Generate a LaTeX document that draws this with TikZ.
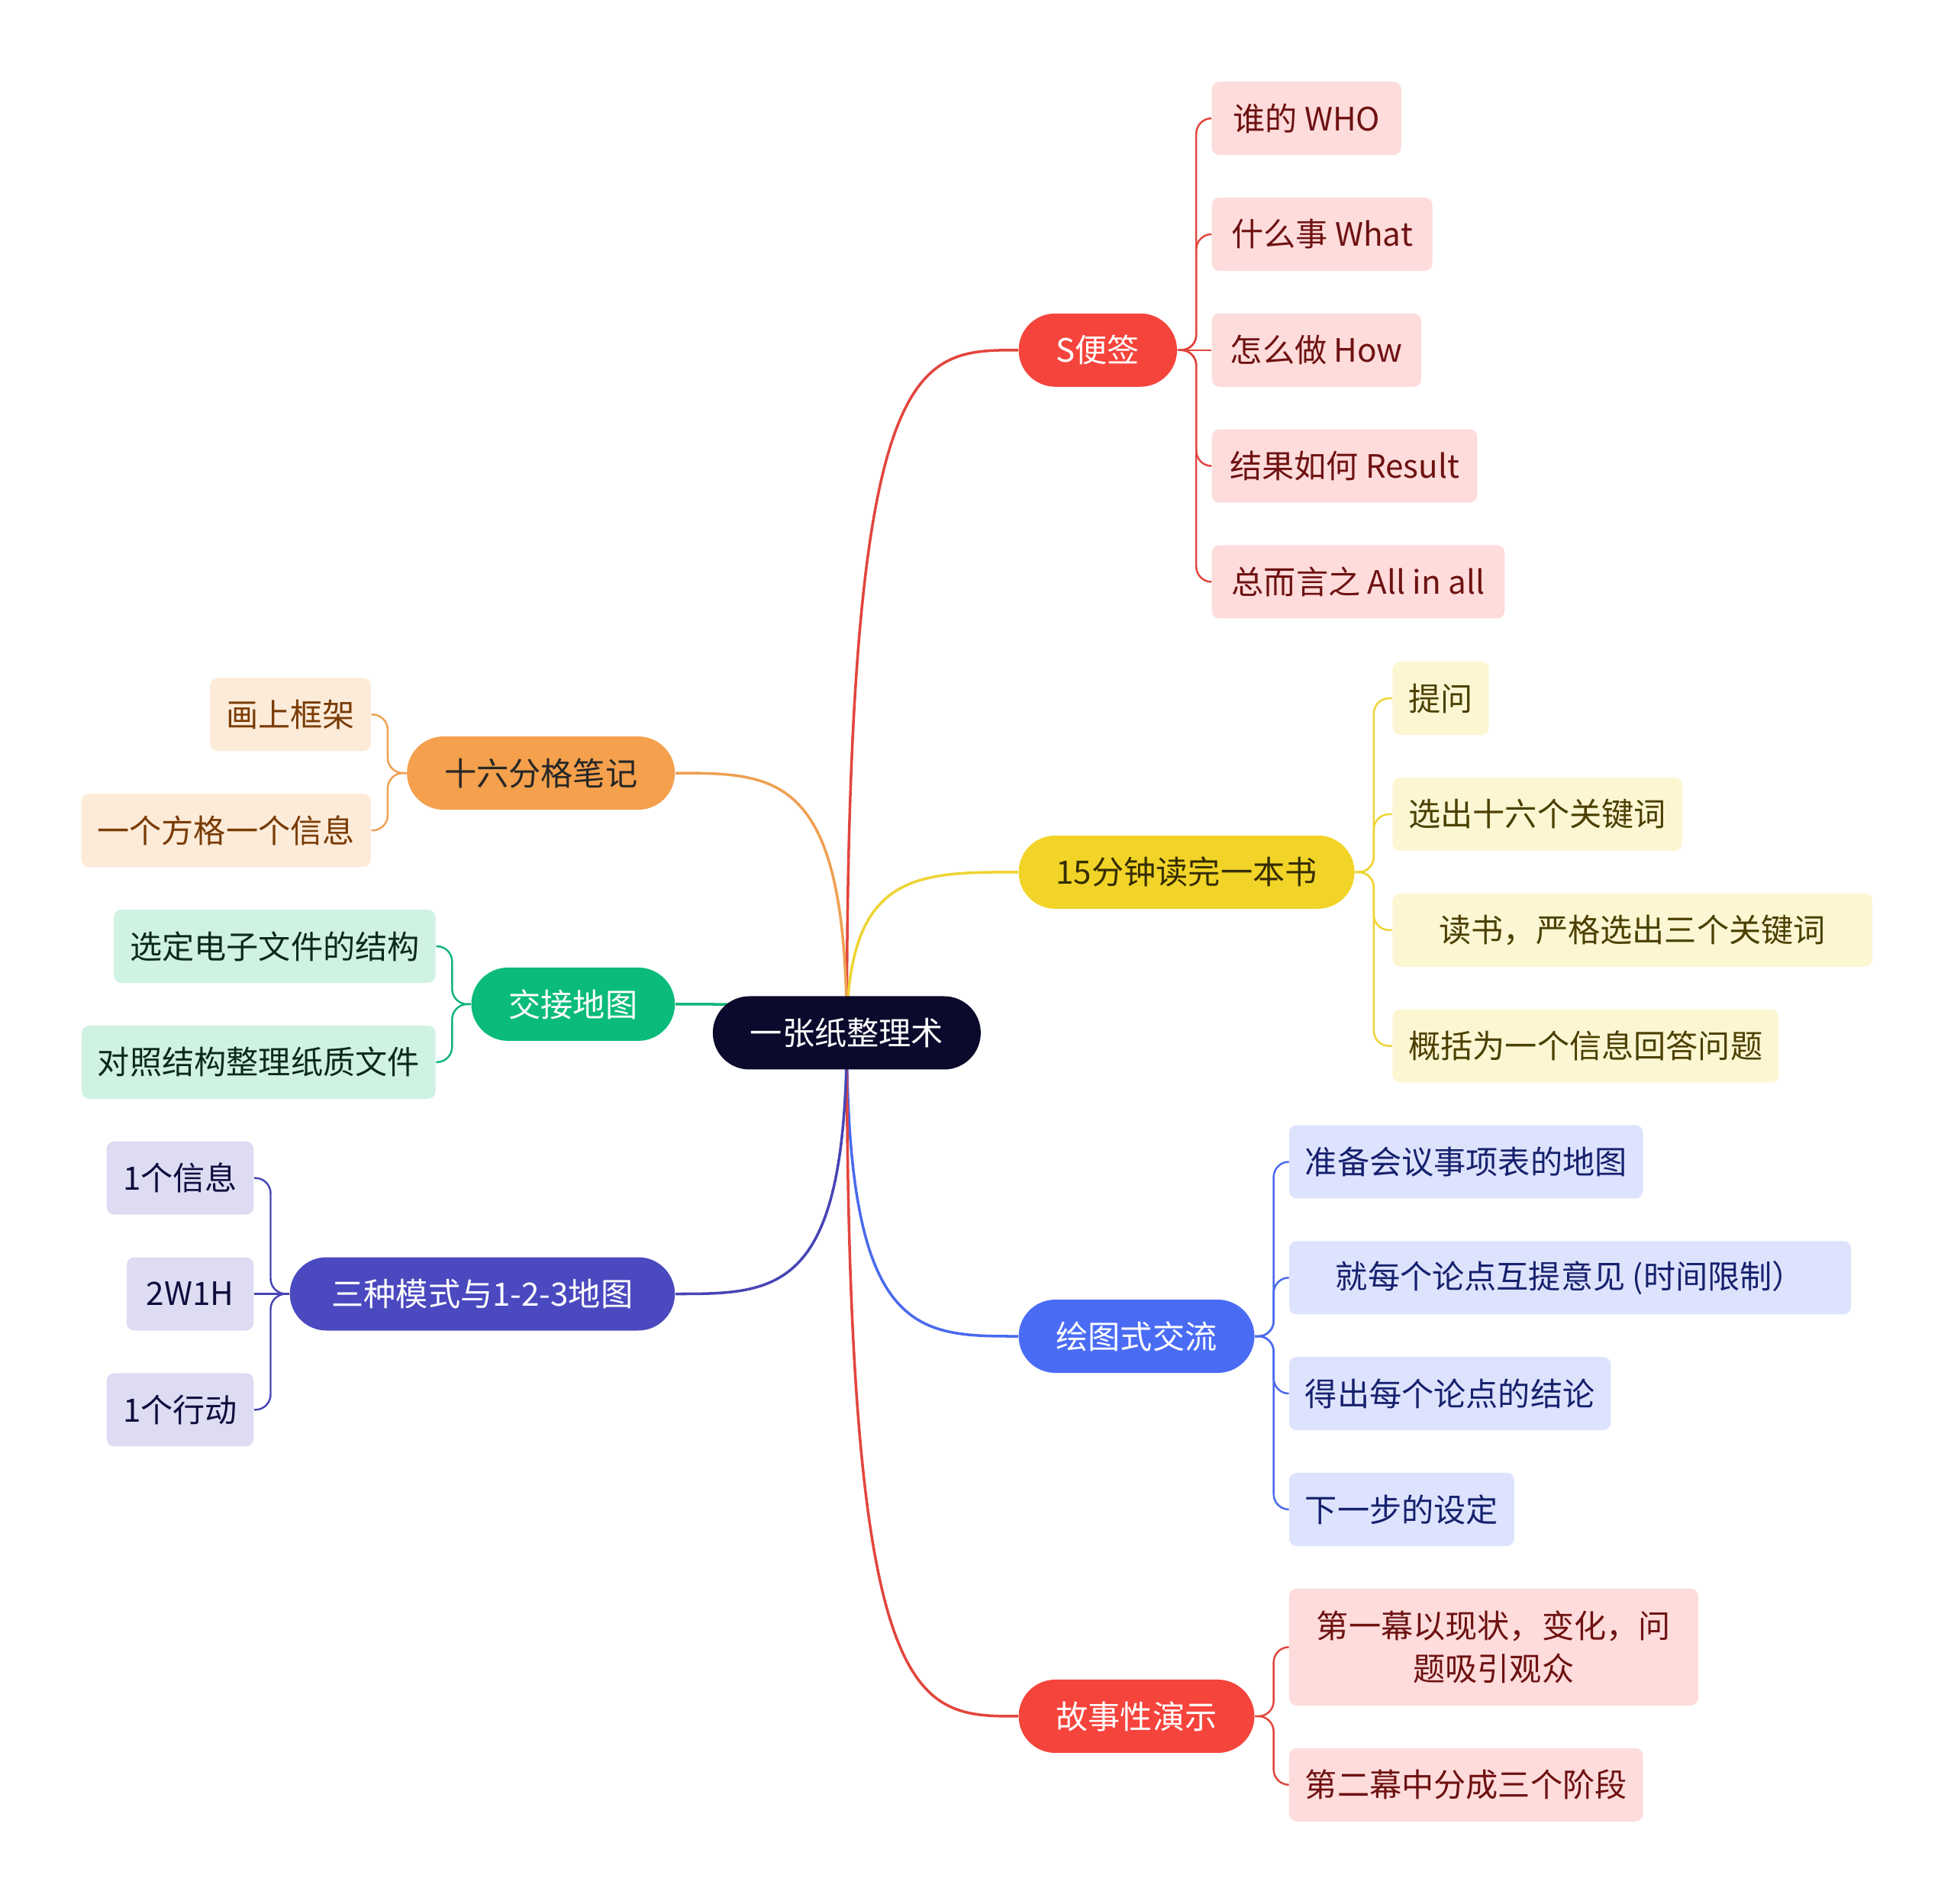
\documentclass[tikz,border=0pt]{standalone}
\usepackage{fontspec}
\setmainfont{Noto Sans CJK SC}
\usetikzlibrary{calc}
\pgfdeclarelayer{background}
\pgfsetlayers{background,main}

\definecolor{rootfill}{HTML}{0B0A2C}
\definecolor{redfill}{HTML}{F5443C}
\definecolor{redline}{HTML}{E2453D}
\definecolor{pinkfill}{HTML}{FDDCDB}
\definecolor{pinktext}{HTML}{6E1111}
\definecolor{yellowfill}{HTML}{F2D428}
\definecolor{yellowline}{HTML}{EED434}
\definecolor{creamfill}{HTML}{FDF6D3}
\definecolor{creamtext}{HTML}{4B4000}
\definecolor{bluefill}{HTML}{4A6CF5}
\definecolor{blueline}{HTML}{4A6AEC}
\definecolor{skyfill}{HTML}{DDE3FD}
\definecolor{skytext}{HTML}{16216E}
\definecolor{orangefill}{HTML}{F4A04C}
\definecolor{orangeline}{HTML}{EEA052}
\definecolor{peachfill}{HTML}{FDEBD9}
\definecolor{peachtext}{HTML}{7A3C05}
\definecolor{greenfill}{HTML}{0BBB7B}
\definecolor{greenline}{HTML}{12B57A}
\definecolor{mintfill}{HTML}{CFF2E3}
\definecolor{minttext}{HTML}{0B2A1E}
\definecolor{indigofill}{HTML}{4B49BF}
\definecolor{indigoline}{HTML}{4745B5}
\definecolor{lilacfill}{HTML}{DEDCF3}
\definecolor{lilactext}{HTML}{0F0D3D}

\begin{document}
\begin{tikzpicture}[x=0.016327cm, y=-0.016327cm,
    font=\fontsize{12pt}{16pt}\selectfont,
    mainbox/.style={fill=rootfill, text=white, rounded corners=0.48cm, minimum height=0.96cm, inner xsep=0.49cm},
    topicbox/.style={fill=#1, text=white, rounded corners=0.48cm, minimum height=0.96cm, inner xsep=0.49cm},
    leafbox/.style={fill=#1, rounded corners=0.1cm, minimum height=0.96cm, inner xsep=0.21cm},
    branchline/.style={draw=#1, line width=1pt, to path={.. controls (\tikztostart |- \tikztotarget) and ($(\tikztostart |- \tikztotarget)!0.4!(\tikztotarget)$) .. (\tikztotarget)}},
    leafline/.style={draw=#1, line width=0.7pt, rounded corners=0.2cm}]
    \useasboundingbox (0,0) rectangle (1568,1528);

    \node[mainbox] (paper) at (679.5,829) {一张纸整理术};

    \node[topicbox=redfill, anchor=west] (memo) at (817,281) {S便签};
    \node[leafbox=pinkfill, text=pinktext, anchor=west, minimum width=2.482cm] (who) at (972,95) {谁的 WHO};
    \node[leafbox=pinkfill, text=pinktext, anchor=west, minimum width=2.890cm] (what) at (972,188) {什么事 What};
    \node[leafbox=pinkfill, text=pinktext, anchor=west, minimum width=2.743cm] (how) at (972,281) {怎么做 How};
    \node[leafbox=pinkfill, text=pinktext, anchor=west, minimum width=3.478cm] (result) at (972,374) {结果如何 Result};
    \node[leafbox=pinkfill, text=pinktext, anchor=west, minimum width=3.837cm] (allin) at (972,467) {总而言之 All in all};

    \node[topicbox=yellowfill, text=creamtext!70!black, anchor=west] (book) at (817,700) {15分钟读完一本书};
    \node[leafbox=creamfill, text=creamtext, anchor=west] (ask) at (1117,560.5) {提问};
    \node[leafbox=creamfill, text=creamtext, anchor=west] (sixteen) at (1117,653.5) {选出十六个关键词};
    \node[leafbox=creamfill, text=creamtext, anchor=west, minimum width=6.286cm] (three) at (1117,746.5) {读书，严格选出三个关键词};
    \node[leafbox=creamfill, text=creamtext, anchor=west] (answer) at (1117,839.5) {概括为一个信息回答问题};

    \node[topicbox=bluefill, anchor=west] (talk) at (817,1072.5) {绘图式交流};
    \node[leafbox=skyfill, text=skytext, anchor=west] (agenda) at (1034,932.5) {准备会议事项表的地图};
    \node[leafbox=skyfill, text=skytext, anchor=west, minimum width=7.363cm] (opinion) at (1034,1025.5) {就每个论点互提意见 (时间限制）};
    \node[leafbox=skyfill, text=skytext, anchor=west] (conclude) at (1034,1118.5) {得出每个论点的结论};
    \node[leafbox=skyfill, text=skytext, anchor=west] (nextstep) at (1034,1211.5) {下一步的设定};

    \node[topicbox=redfill, anchor=west] (story) at (817,1377.5) {故事性演示};
    \node[leafbox=pinkfill, text=pinktext, anchor=west, align=center, minimum height=1.535cm, inner xsep=0.36cm] (actone) at (1034,1322) {第一幕以现状，变化，问\\题吸引观众};
    \node[leafbox=pinkfill, text=pinktext, anchor=west] (acttwo) at (1034,1432.5) {第二幕中分成三个阶段};

    \node[topicbox=orangefill, text=black!85, anchor=east] (grid) at (542,620.5) {十六分格笔记};
    \node[leafbox=peachfill, text=peachtext, anchor=east] (frame) at (298,573.5) {画上框架};
    \node[leafbox=peachfill, text=peachtext, anchor=east] (cell) at (298,666.5) {一个方格一个信息};

    \node[topicbox=greenfill, anchor=east] (handover) at (542,806) {交接地图};
    \node[leafbox=mintfill, text=minttext, anchor=east] (digital) at (350,759.5) {选定电子文件的结构};
    \node[leafbox=mintfill, text=minttext, anchor=east] (paperfile) at (350,852.5) {对照结构整理纸质文件};

    \node[topicbox=indigofill, anchor=east, minimum width=5.045cm] (modes) at (542,1038.5) {三种模式与1-2-3地图};
    \node[leafbox=lilacfill, text=lilactext, anchor=east, minimum width=1.927cm] (onemsg) at (204,945.5) {1个信息};
    \node[leafbox=lilacfill, text=lilactext, anchor=east, minimum width=1.665cm] (twowoneh) at (204,1038.5) {2W1H};
    \node[leafbox=lilacfill, text=lilactext, anchor=east, minimum width=1.927cm] (oneact) at (204,1131.5) {1个行动};

    \begin{pgfonlayer}{background}
    \draw[branchline=redline] (paper.center) to (memo.west);
    \draw[branchline=yellowline] (paper.center) to (book.west);
    \draw[branchline=blueline] (paper.center) to (talk.west);
    \draw[branchline=redline] (paper.center) to (story.west);
    \draw[branchline=orangeline] (paper.center) to (grid.east);
    \draw[branchline=greenline] (paper.center) to (handover.east);
    \draw[branchline=indigoline] (paper.center) to (modes.east);

    \draw[leafline=redline] (memo.east) -- ++(15,0) |- (who.west);
    \draw[leafline=redline] (memo.east) -- ++(15,0) |- (what.west);
    \draw[leafline=redline] (memo.east) -- (how.west);
    \draw[leafline=redline] (memo.east) -- ++(15,0) |- (result.west);
    \draw[leafline=redline] (memo.east) -- ++(15,0) |- (allin.west);

    \draw[leafline=yellowline] (book.east) -- ++(15,0) |- (ask.west);
    \draw[leafline=yellowline] (book.east) -- ++(15,0) |- (sixteen.west);
    \draw[leafline=yellowline] (book.east) -- ++(15,0) |- (three.west);
    \draw[leafline=yellowline] (book.east) -- ++(15,0) |- (answer.west);

    \draw[leafline=blueline] (talk.east) -- ++(15,0) |- (agenda.west);
    \draw[leafline=blueline] (talk.east) -- ++(15,0) |- (opinion.west);
    \draw[leafline=blueline] (talk.east) -- ++(15,0) |- (conclude.west);
    \draw[leafline=blueline] (talk.east) -- ++(15,0) |- (nextstep.west);

    \draw[leafline=redline] (story.east) -- ++(15,0) |- (actone.west);
    \draw[leafline=redline] (story.east) -- ++(15,0) |- (acttwo.west);

    \draw[leafline=orangeline] (grid.west) -- ++(-15,0) |- (frame.east);
    \draw[leafline=orangeline] (grid.west) -- ++(-15,0) |- (cell.east);

    \draw[leafline=greenline] (handover.west) -- ++(-15,0) |- (digital.east);
    \draw[leafline=greenline] (handover.west) -- ++(-15,0) |- (paperfile.east);

    \draw[leafline=indigoline] (modes.west) -- ++(-15,0) |- (onemsg.east);
    \draw[leafline=indigoline] (modes.west) -- (twowoneh.east);
    \draw[leafline=indigoline] (modes.west) -- ++(-15,0) |- (oneact.east);
    \end{pgfonlayer}
\end{tikzpicture}
\end{document}
